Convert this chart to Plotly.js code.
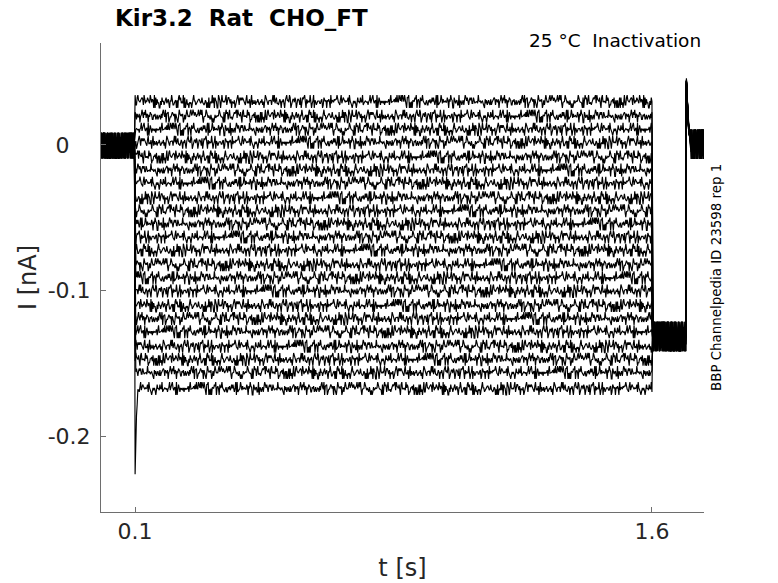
<!DOCTYPE html>
<html>
<head>
<meta charset="utf-8">
<script src="https://cdn.plot.ly/plotly-3.0.1.min.js"></script>
<style>html,body{margin:0;padding:0;background:#fff;} #chart{width:778px;height:583px;}</style>
</head>
<body>
<div id="chart"></div>
<script>
// ---- data ----
// protocol times [s]
const tStepOn = 0.1, tStepOff = 1.6, tRelease = 1.7, tEnd = 1.75;
// current level during the test pulse for each sweep [nA]
const stepLevels = [0.030, 0.020, 0.011, 0.002, -0.008, -0.017, -0.026, -0.036, -0.045, -0.054, -0.063,
                    -0.072, -0.082, -0.091, -0.100, -0.110, -0.119, -0.128, -0.138, -0.147, -0.156, -0.167];
const preLevel = 0.0;       // holding current before pulse
const holdLevel = -0.131;   // current after the pulse (1.6–1.7 s)
const postLevel = 0.001;    // current after release
// onset transient of the deepest sweep and the release spike [nA]
const onsetTransient = [-0.226, -0.200, -0.186, -0.178];
const releaseSpike = [0.044, 0.030, 0.020, 0.013, 0.009, 0.006];
// recording noise, hand-typed digits (0–9) and the amplitude each digit stands for
const noiseDigits =
 "4736251908527461938204657382915620948173381927465072940183652618473905937251608414863927506053928147" +
 "8241609375396718204551703948260928463715734521896046820735192590836174816354709237092516486437805921" +
 "1856290374902461753857913402860348572619621593840749670238512083761594753618402931524987608670215493" +
 "1409357682592674031807815269346349081275286539471095136720484027958163719843052636801452975843726109" +
 "3061857249148203965778254193062739460518459162803740627384915281903756476523091840372851694261740938" +
 "5290716384263849150772619084534087219563815064297370152948636923805174408516273959471362080738251496" +
 "2650938471813720596449163257081527084936370495182668243170593901685743245823907161973460285208145639" +
 "6139402857";
const noiseMap = [-3.3, -1.8, -1.0, -0.5, -0.15, 0.15, 0.5, 1.0, 1.8, 3.0];
// axis ticks
const xTickVals = [0.1, 1.6];
const xTickText = ["0.1", "1.6"];
const yTickVals = [0, -0.1, -0.2];
const yTickText = ["0\u00a0\u00a0\u00a0", "-0.1", "-0.2"];

// ---- build sweeps ----
const L = noiseDigits.length;
function nz(k, i, seg, scale) {
  const d = +noiseDigits[(k * 97 + i * 7 + seg * 131) % L];
  return noiseMap[d] * scale;
}
const traces = [];
stepLevels.forEach((lvl, k) => {
  const x = [], y = [];
  // before pulse
  for (let i = 0; i < 50; i++) { const t = i * 0.002; x.push(t); y.push(preLevel + nz(k, i, 0, 0.0028)); }
  // test pulse
  for (let i = 0; i <= 750; i++) {
    const t = tStepOn + i * 0.002;
    let v = lvl + nz(k, i, 1, 0.0014);
    if (k === stepLevels.length - 1 && i < onsetTransient.length) v = onsetTransient[i];
    x.push(t); y.push(v);
  }
  // after pulse
  for (let i = 1; i < 50; i++) { const t = tStepOff + i * 0.002; x.push(t); y.push(holdLevel + nz(k, i, 2, 0.0032)); }
  // release
  for (let i = 0; i <= 25; i++) {
    const t = tRelease + i * 0.002;
    let v = postLevel + nz(k, i, 3, 0.0032);
    if (i < releaseSpike.length) v = releaseSpike[i] + nz(k, i, 3, 0.0006);
    x.push(t); y.push(v);
  }
  traces.push({x, y, type: 'scatter', mode: 'lines', line: {color: '#000', width: 1.15}, hoverinfo: 'skip', showlegend: false});
});

const font = "DejaVu Sans, Verdana, sans-serif";
const layout = {
  width: 778, height: 583,
  margin: {l: 101, r: 74, t: 43, b: 71},
  paper_bgcolor: '#fff', plot_bgcolor: '#fff',
  font: {family: font, color: '#262626'},
  title: {text: '<b>Kir3.2\u00a0\u00a0Rat\u00a0\u00a0CHO_FT</b>', x: 115/778, xanchor: 'left', xref: 'container',
          y: 1 - 18/583, yanchor: 'middle', yref: 'container', font: {family: font, size: 23, color: '#000'}},
  xaxis: {range: [0.001, 1.751], tickvals: xTickVals, ticktext: xTickText, ticks: 'inside', ticklen: 5,
          tickcolor: '#6e6e6e', showline: true, linecolor: '#6e6e6e', linewidth: 1, showgrid: false, zeroline: false,
          tickfont: {size: 22, color: '#262626'},
          title: {text: 't [s]', font: {size: 24, color: '#262626'}, standoff: 15}},
  yaxis: {range: [-0.252, 0.070], tickvals: yTickVals, ticktext: yTickText, ticks: 'inside', ticklen: 5,
          ticklabelstandoff: 5,
          tickcolor: '#6e6e6e', showline: true, linecolor: '#6e6e6e', linewidth: 1, showgrid: false, zeroline: false,
          tickfont: {size: 22, color: '#262626'},
          title: {text: 'I [nA]', font: {size: 24, color: '#262626'}, standoff: 4}},
  annotations: [
    {text: '25 °C\u00a0\u00a0Inactivation', xref: 'paper', yref: 'paper', x: 1, y: 1, xanchor: 'right', yanchor: 'middle',
     xshift: -1, yshift: 3, showarrow: false, font: {family: font, size: 18.5, color: '#000'}},
    {text: 'BBP Channelpedia ID 23598 rep 1', xref: 'paper', yref: 'paper', x: 1, y: 0.499, xanchor: 'center', yanchor: 'middle',
     xshift: 13, textangle: -90, showarrow: false, font: {family: font, size: 13.4, color: '#000'}}
  ]
};
Plotly.newPlot('chart', traces, layout, {staticPlot: true, displayModeBar: false});
</script>
</body>
</html>
